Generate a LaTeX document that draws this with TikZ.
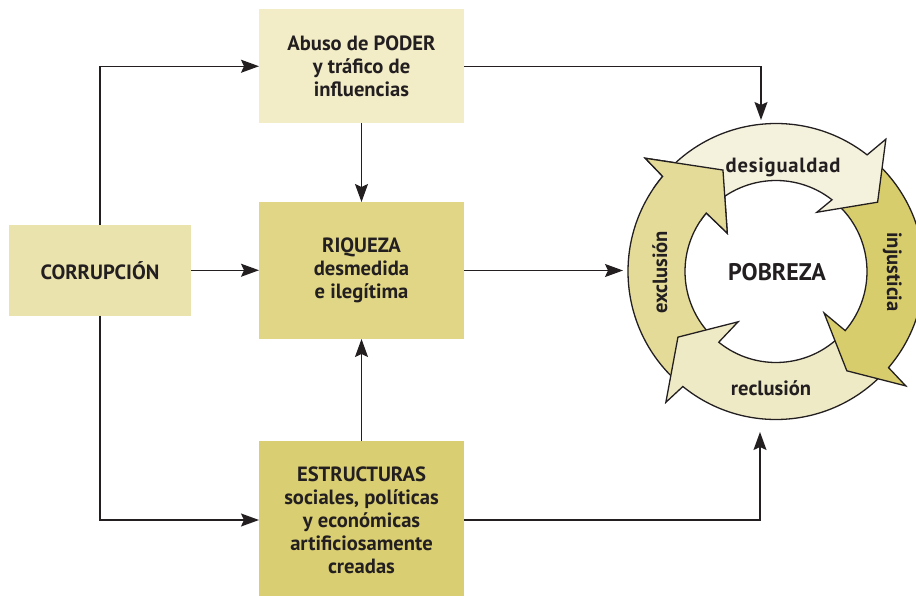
\documentclass[tikz,border=0pt]{standalone}
\usepackage{fontspec}
\setmainfont{PT Sans}
\usetikzlibrary{arrows.meta}
\definecolor{txt}{HTML}{231F20}
\definecolor{cAbuso}{HTML}{F2ECC7}
\definecolor{cCorr}{HTML}{EAE3AD}
\definecolor{cRiq}{HTML}{E0D685}
\definecolor{cEstr}{HTML}{D9CE72}
\definecolor{cD}{HTML}{F4F1DD}
\definecolor{cI}{HTML}{D8CD6C}
\definecolor{cR}{HTML}{EFEAC6}
\definecolor{cE}{HTML}{E4DB98}
\begin{document}
\begin{tikzpicture}[x=1pt,y=1pt,
 box/.style={inner sep=0pt, outer sep=0pt, align=center, text=txt, font=\bfseries\fontsize{20.6}{23}\selectfont},
 conn/.style={line width=1.4pt, draw=txt, -{Stealth[length=18pt,width=13pt,inset=3pt]}},
 ringarrow/.style={draw=txt, line width=1.3pt, line join=miter},
 ringlabel/.style={text=txt, font=\bfseries\fontsize{20.6}{23}\selectfont, inner sep=0pt}]
\useasboundingbox (0,0) rectangle (916,-596);
% boxes
\node[box, fill=cAbuso, minimum width=205pt, minimum height=114.5pt] (abuso) at (361.5,-66.25) {Abuso de PODER\\y tráfico de\\influencias};
\node[box, fill=cCorr, minimum width=182pt, minimum height=90.5pt] (corr) at (100,-270.25) {CORRUPCIÓN};
\node[box, fill=cRiq, minimum width=205pt, minimum height=137pt] (riq) at (361.5,-270.5) {RIQUEZA\\desmedida\\e ilegítima};
\node[box, fill=cEstr, minimum width=205pt, minimum height=158pt] (estr) at (361.5,-520) {ESTRUCTURAS\\sociales, políticas\\y económicas\\artificiosamente\\creadas};
% free ends at the cycle
\coordinate (pTop) at (761,-120);
\coordinate (pLeft) at (623,-270.5);
\coordinate (pBot) at (760,-432);
% connectors
\draw[conn] (corr.north) |- (abuso.west);
\draw[conn] (corr.east) -- (corr.east -| riq.west);
\draw[conn] (corr.south) |- (estr.west);
\draw[conn] (abuso.south) -- (riq.north);
\draw[conn] (estr.north) -- (riq.south);
\draw[conn] (abuso.east) -| (pTop);
\draw[conn] (riq.east) -- (pLeft);
\draw[conn] (estr.east) -| (pBot);
% cycle
\begin{scope}[shift={(776,-271.5)}]
\path[ringarrow, fill=cE] (228:148) arc[start angle=228, end angle=140, radius=148pt] -- (139.1:173) -- (117.6:114.5) -- (141.8:62) -- (140:91) arc[start angle=140, end angle=228, radius=91pt] -- cycle;
\path[ringarrow, fill=cR] (316.5:148) arc[start angle=316.5, end angle=231, radius=148pt] -- (229.9:171) -- (213.8:118) -- (233:63) -- (231:91) arc[start angle=231, end angle=316.5, radius=91pt] -- cycle;
\path[ringarrow, fill=cI] (49:148) arc[start angle=49, end angle=-40.5, radius=148pt] -- (-41.4:173) -- (-54.5:122) -- (-40.8:63.5) -- (-40.5:91) arc[start angle=-40.5, end angle=49, radius=91pt] -- cycle;
\path[ringarrow, fill=cD] (137:148) arc[start angle=137, end angle=52, radius=148pt] -- (50.3:172) -- (34.3:123) -- (55.4:72) -- (52:91) arc[start angle=52, end angle=137, radius=91pt] -- cycle;
\begin{scope}
\clip (0,0) -- (146:230) arc[start angle=146, end angle=105, radius=230pt] -- cycle;
\path[ringarrow, fill=cE] (228:148) arc[start angle=228, end angle=140, radius=148pt] -- (139.1:173) -- (117.6:114.5) -- (141.8:62) -- (140:91) arc[start angle=140, end angle=228, radius=91pt] -- cycle;
\end{scope}
\end{scope}
% labels
\node[ringlabel, font=\bfseries\fontsize{24}{28}\selectfont] (pob) at (777,-272) {POBREZA};
\node[ringlabel, anchor=base] (desig) at (783,-173) {\addfontfeature{LetterSpace=4}desigualdad};
\node[ringlabel, anchor=base] (reclu) at (771,-395) {reclusión};
\node[ringlabel, anchor=base, rotate=90] (exclu) at (667,-272.5) {exclusión};
\node[ringlabel, anchor=base, rotate=-90] (injus) at (887,-272) {injusticia};
\end{tikzpicture}
\end{document}
